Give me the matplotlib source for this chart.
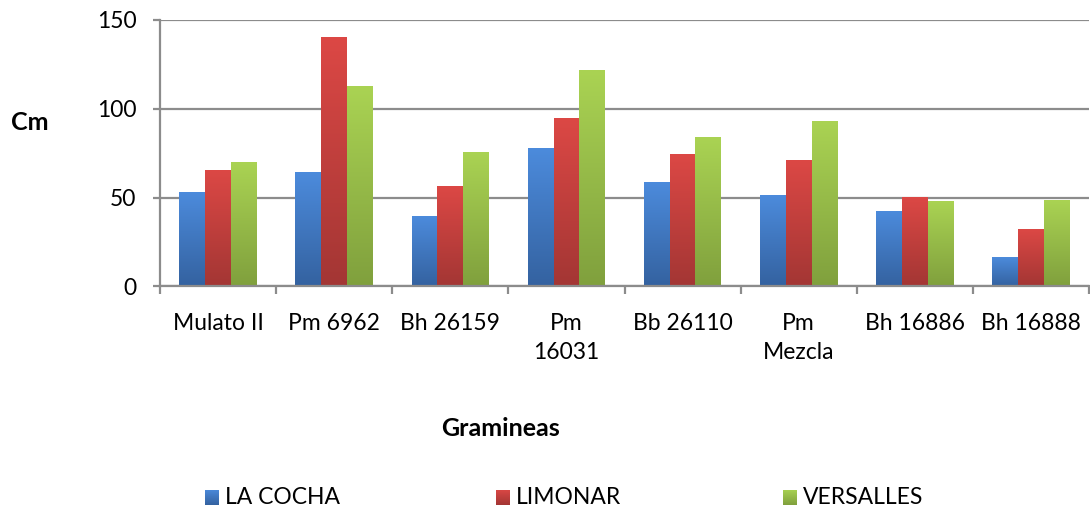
import numpy as np
import matplotlib
matplotlib.use("Agg")
import matplotlib.pyplot as plt
from matplotlib.colors import LinearSegmentedColormap

categorias = ["Mulato II", "Pm 6962", "Bh 26159", "Pm\n16031", "Bb 26110",
              "Pm\nMezcla", "Bh 16886", "Bh 16888"]
la_cocha = [52.4, 64.2, 38.9, 77.3, 58.2, 50.7, 42.2, 16.1]
limonar = [65.3, 140.0, 56.1, 94.4, 73.8, 70.6, 49.9, 32.1]
versalles = [69.8, 112.2, 75.4, 121.4, 83.5, 92.5, 47.6, 48.0]

series = ["LA COCHA", "LIMONAR", "VERSALLES"]
valores = [la_cocha, limonar, versalles]
# (color arriba, color abajo) para el degradado de cada serie
degradados = [("#4C8BDC", "#3462A0"), ("#DC4845", "#A33634"), ("#AAD353", "#80A03D")]

plt.rcParams["font.family"] = ["Lato", "DejaVu Sans"]
fs = 16.5

fig = plt.figure(figsize=(10.9, 5.08), dpi=100)
ax = fig.add_axes([160 / 1090, 1 - 286.3 / 508, 929 / 1090, 266.3 / 508])

x = np.arange(len(categorias))
ancho = 1 / 4.5  # gap width 150%
grad = np.linspace(1, 0, 256).reshape(-1, 1)

for i, (vals, (c_top, c_bot)) in enumerate(zip(valores, degradados)):
    cmap = LinearSegmentedColormap.from_list(series[i], [c_bot, c_top])
    barras = ax.bar(x + (i - 1) * ancho, vals, ancho, color="none",
                    linewidth=0, zorder=3)
    for b in barras:
        x0, y0 = b.get_x(), b.get_y()
        ax.imshow(grad, extent=[x0, x0 + b.get_width(), y0, y0 + b.get_height()],
                  cmap=cmap, vmin=0, vmax=1, aspect="auto", zorder=2,
                  interpolation="bicubic")

ax.set_xlim(-0.5, len(categorias) - 0.5)
ax.set_ylim(0, 150)
ax.set_yticks([0, 50, 100, 150])

gris = "#8C8C8C"
ax.grid(axis="y", color=gris, linewidth=1.6, zorder=0)
ax.set_axisbelow(True)
for s in ["top", "right"]:
    ax.spines[s].set_visible(False)
for s in ["left", "bottom"]:
    ax.spines[s].set_color(gris)
    ax.spines[s].set_linewidth(1.6)
    ax.spines[s].set_zorder(4)

ax.set_xticks(x)
ax.set_xticklabels(categorias, fontsize=fs, linespacing=1.48)
ax.set_xticks(np.arange(len(categorias) + 1) - 0.5, minor=True)
ax.tick_params(axis="x", which="major", length=0, pad=19)
ax.tick_params(axis="x", which="minor", length=6, width=1.6, color=gris)
ax.tick_params(axis="y", length=5, width=1.6, color=gris, labelsize=fs, pad=12)
for t in ax.get_xticklabels():
    t.set_verticalalignment("top")

fig.text(30 / 1090, 1 - 122 / 508, "Cm", fontsize=18, fontweight="bold",
         ha="center", va="center")
fig.text(501 / 1090, 1 - 428 / 508, "Gramineas", fontsize=18,
         fontweight="bold", ha="center", va="center")

# leyenda
pos_leyenda = [205, 496, 783]
for nombre, (c_top, c_bot), px in zip(series, degradados, pos_leyenda):
    cmap = LinearSegmentedColormap.from_list(nombre, [c_bot, c_top])
    lax = fig.add_axes([px / 1090, 1 - 505 / 508, 14 / 1090, 15 / 508])
    lax.imshow(grad, cmap=cmap, vmin=0, vmax=1, aspect="auto")
    lax.axis("off")
    fig.text((px + 20) / 1090, 1 - 497 / 508, nombre, fontsize=fs,
             ha="left", va="center")

fig.savefig("out.png", dpi=100)
